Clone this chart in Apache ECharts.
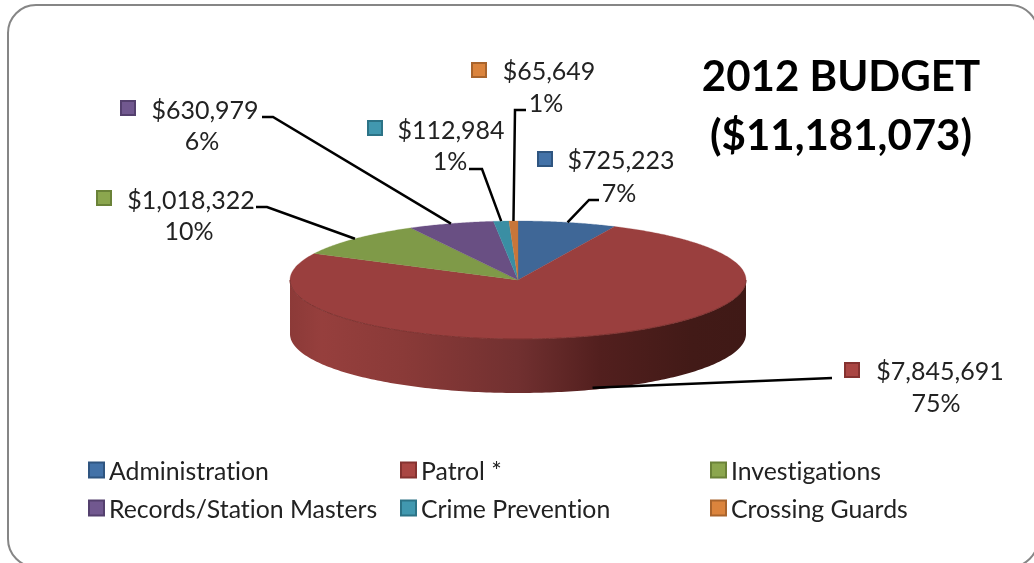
<!DOCTYPE html>
<html>
<head>
<meta charset="utf-8">
<style>
html,body{margin:0;padding:0;background:#fff;}
#c{width:1034px;height:563px;filter:blur(0.5px);font-variant-ligatures:none;}
#c text{font-variant-ligatures:none;}
</style>
<script src="https://cdn.jsdelivr.net/npm/echarts@6/dist/echarts.min.js"></script>
</head>
<body>
<div id="c"></div>
<script>
// ---- data ----
var categories = ['Administration','Patrol *','Investigations','Records/Station Masters','Crime Prevention','Crossing Guards'];
var budget = [725223, 7845691, 1018322, 630979, 112984, 65649];
var chartTitle = '2012 BUDGET\n($11,181,073)';

// ---- styles ----
var faceColors = ['#3f6797','#9a3f3e','#7f9a48','#694f83','#3a8ea3','#c8763a'];
var markColors = ['#4372a8','#aa4643','#8ba64e','#71588f','#4198af','#db843d'];
var markEdges  = ['#2f5580','#853230','#6a8238','#54406e','#2c7386','#a9642c'];

// ---- layout ----
var PIE = {cx:518, cy:280, rx:228, ry:59, depth:54};
var FONT = 'Lato, Carlito, sans-serif';
// marker box, value text anchor, percent text anchor, leader path start points
var labelLayout = [
  {mark:[537,151], val:[621,159], pct:[619,192], lead:[[599,200],[589,200]]},
  {mark:[844,362], val:[940,370], pct:[936,402], lead:[[832,378]], bottom:true},
  {mark:[96,190],  val:[191,199], pct:[189,230], lead:[[256,207],[267,207]]},
  {mark:[120,100], val:[205,109], pct:[202,140], lead:[[262,117],[273,117]]},
  {mark:[367,120], val:[451,129], pct:[450,160], lead:[[469,169],[482,169]]},
  {mark:[471,62],  val:[549,70],  pct:[546,102], lead:[[526,110],[515,110]]}
];

var total = budget.reduce(function(a,b){return a+b;},0);
function pt(deg, dy){
  var t = deg*Math.PI/180;
  return [PIE.cx + PIE.rx*Math.sin(t), PIE.cy - PIE.ry*Math.cos(t) + (dy||0)];
}
function startAngle(i){
  var s = 0;
  for (var k=0;k<i;k++) s += budget[k];
  return s/total*360;
}
function money(v){ return '$' + v.toString().replace(/\B(?=(\d{3})+$)/g, ','); }

function renderSlice(i){
  return function(params, api){
    var v = api.value(0);
    var a0 = startAngle(i), a1 = a0 + v/total*360, mid = (a0+a1)/2;
    var children = [];
    // visible outer wall (front half of the disc)
    var s0 = Math.max(a0,90), s1 = Math.min(a1,270);
    if (s1 > s0){
      var wall = [], a;
      for (a=s0;a<=s1;a+=1) wall.push(pt(a));
      wall.push(pt(s1));
      for (a=s1;a>=s0;a-=1) wall.push(pt(a,PIE.depth));
      wall.push(pt(s0,PIE.depth));
      children.push({type:'polygon', shape:{points:wall}, style:{
        fill:new echarts.graphic.LinearGradient(1,0,0,0,[
          {offset:0,color:'#3f1916'},{offset:0.12,color:'#421a17'},
          {offset:0.32,color:'#521f1e'},{offset:0.5,color:'#713030'},
          {offset:0.75,color:'#8a3a38'},{offset:0.93,color:'#963f3d'},{offset:1,color:'#8c3a38'}
        ]), stroke:null}});
    }
    // top face
    var pts = [[PIE.cx,PIE.cy]];
    for (var b=a0;b<a1;b+=0.5) pts.push(pt(b));
    pts.push(pt(a1));
    children.push({type:'polygon', shape:{points:pts}, style:{fill:faceColors[i], stroke:faceColors[i], lineWidth:0.3}});
    if (s1 > s0){
      var rim = [];
      for (var c=s0;c<=s1;c+=1) rim.push(pt(c));
      children.push({type:'polyline', shape:{points:rim}, style:{fill:null, stroke:'#7c3230', lineWidth:1}});
    }
    // leader line ending on the slice's mid-angle
    var L = labelLayout[i];
    var end = L.bottom ? pt(mid, PIE.depth-2) : pt(mid);
    children.push({type:'polyline', shape:{points:L.lead.concat([end])}, style:{fill:null, stroke:'#000', lineWidth:2.5}, z2:5});
    // data label
    children.push({type:'rect', shape:{x:L.mark[0]+1,y:L.mark[1]+1,width:14,height:14}, style:{fill:markColors[i], stroke:markEdges[i], lineWidth:2}, z2:5});
    children.push({type:'text', style:{x:L.val[0],y:L.val[1],text:money(v),font:'25px '+FONT,fill:'#222',align:'center',verticalAlign:'middle'}, z2:5});
    children.push({type:'text', style:{x:L.pct[0],y:L.pct[1],text:Math.round(v/total*100)+'%',font:'25px '+FONT,fill:'#222',align:'center',verticalAlign:'middle'}, z2:5});
    return {type:'group', children:children};
  };
}

var series = categories.map(function(name,i){
  return {type:'custom', name:name, coordinateSystem:'none', silent:true, animation:false,
    clip:false, itemStyle:{color:markColors[i]}, data:[[budget[i]]], renderItem:renderSlice(i)};
});

function legendCol(left, names){
  return {orient:'vertical', left:left, top:456, padding:0, itemGap:10, itemWidth:15, itemHeight:15,
    selectedMode:false, textStyle:{fontFamily:FONT, fontSize:24.8, lineHeight:24, padding:[0,0,4,0], color:'#222'},
    data:names.map(function(n){
      var i = categories.indexOf(n);
      return {name:n, icon:'rect', itemStyle:{color:markColors[i], borderColor:markEdges[i], borderWidth:2}};
    })};
}

var chart = echarts.init(document.getElementById('c'), null, {renderer:'svg'});
chart.setOption({
  backgroundColor:'#fff',
  animation:false,
  title:{text:chartTitle, left:841, top:45, textAlign:'center', padding:0,
    textStyle:{fontFamily:FONT, fontWeight:'bold', fontSize:42, lineHeight:59, color:'#000'}},
  legend:[
    legendCol(88,[categories[0],categories[3]]),
    legendCol(400,[categories[1],categories[4]]),
    legendCol(710,[categories[2],categories[5]])
  ],
  graphic:[{type:'rect', left:7, top:4, z:-1, silent:true,
    shape:{width:1030,height:562,r:28}, style:{fill:'#fff',stroke:'#868686',lineWidth:2}}],
  series:series
});
</script>
</body>
</html>
